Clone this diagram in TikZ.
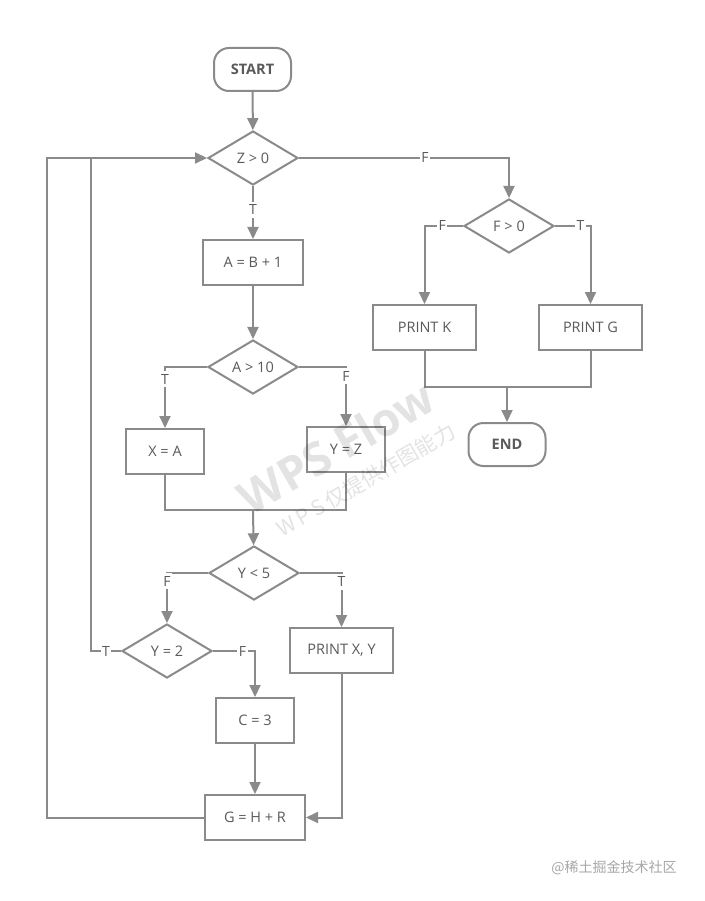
\documentclass[tikz,border=0pt]{standalone}
\usepackage{fontspec}
\setmainfont{Open Sans}
\newfontfamily\cjk{Noto Sans CJK SC}
\usetikzlibrary{shapes.geometric,arrows.meta}
\definecolor{linegray}{HTML}{8A8A8A}
\definecolor{textgray}{HTML}{5A5A5A}

\begin{document}
\begin{tikzpicture}[x=1pt,y=1pt,
  every node/.style={font=\fontsize{14.5}{16}\selectfont, text=textgray},
  proc/.style={draw=linegray, line width=2pt, fill=white, minimum width=#1, minimum height=45, inner sep=0pt},
  proc/.default=78,
  term/.style={draw=linegray, line width=2pt, fill=white, rounded corners=15pt, minimum width=77, minimum height=43, font=\fontsize{14.5}{16}\selectfont\bfseries},
  decide/.style={diamond, draw=linegray, line width=2pt, fill=white, aspect=1.67, minimum width=90, minimum height=54, inner sep=0pt},
  flow/.style={draw=linegray, line width=2pt},
  arr/.style={flow, -{Triangle[length=12pt,width=11pt]}},
  lbl/.style={fill=white, inner xsep=1.5pt, inner ysep=3pt, font=\fontsize{14}{16}\selectfont},
  wmark/.style={rotate=30, text=black, text opacity=0.11}]
  \useasboundingbox (0,0) rectangle (704,-901);
  \node[term] (start) at (252.5,-69.5) {START};
  \node[decide] (z) at (253,-158) {Z > 0};
  \node[proc=100] (ab) at (253,-262.5) {A = B + 1};
  \node[decide] (a10) at (253,-367) {A > 10};
  \node[proc] (xa) at (165,-451.5) {X = A};
  \node[proc] (yz) at (346,-449.5) {Y = Z};
  \node[decide] (y5) at (254,-573) {Y < 5};
  \node[decide] (y2) at (167,-651) {Y = 2};
  \node[proc=103] (pxy) at (341.5,-650.5) {PRINT X, Y};
  \node[proc] (c3) at (255,-720.5) {C = 3};
  \node[proc=100] (g) at (255,-817.5) {G = H + R};
  \node[decide] (f0) at (509,-226) {F > 0};
  \node[proc=103] (pk) at (424.5,-327.5) {PRINT K};
  \node[proc=103] (pg) at (590.5,-327.5) {PRINT G};
  \node[term] (end) at (507,-444.5) {END};
  \coordinate (m1) at (253,-510);
  \coordinate (m2) at (507,-387);
  \coordinate (loop) at (92,-158);
  \draw[arr] (start) -- (z);
  \draw[arr] (z) -- node[lbl, pos=0.45]{T} (ab);
  \draw[arr] (ab) -- (a10);
  \draw[arr] (a10.west) -| node[lbl, pos=0.6]{T} (xa.north);
  \draw[arr] (a10.east) -| node[lbl, pos=0.58]{F} (yz.north);
  \draw[flow] (xa.south) |- (m1) -| (yz.south);
  \draw[arr] (m1) -- (y5);
  \draw[arr] (y5.west) -| node[lbl, pos=0.58]{F} (y2.north);
  \draw[arr] (y5.east) -| node[lbl, pos=0.58]{T} (pxy.north);
  \draw[arr] (y2.west) -- node[lbl]{T} ++(-30,0) |- (z.west);
  \draw[arr] (y2.east) -| node[lbl, pos=0.35]{F} (c3.north);
  \draw[arr] (c3) -- (g);
  \draw[arr] (pxy.south) |- (g.east);
  \draw[flow] (g.west) -- ++(-157,0) |- (loop);
  \draw[arr] (z.east) -| node[lbl, pos=0.3]{F} (f0.north);
  \draw[arr] (f0.west) -| node[lbl, pos=0.27]{F} (pk.north);
  \draw[arr] (f0.east) -| node[lbl, pos=0.36]{T} (pg.north);
  \draw[flow] (pk.south) |- (m2) -| (pg.south);
  \draw[arr] (m2) -- (end);
  \node[wmark, font=\fontsize{46}{48}\selectfont\bfseries] (wm) at (336,-447) {WPS Flow};
  \node[wmark, font=\fontsize{21}{24}\selectfont\cjk] (wmsub) at (366,-480) {W\,P\,S\,仅提供作图能力};
  \node[text=black!35, font=\fontsize{14}{16}\selectfont\cjk] (site) at (614,-868) {@稀土掘金技术社区};
\end{tikzpicture}
\end{document}
